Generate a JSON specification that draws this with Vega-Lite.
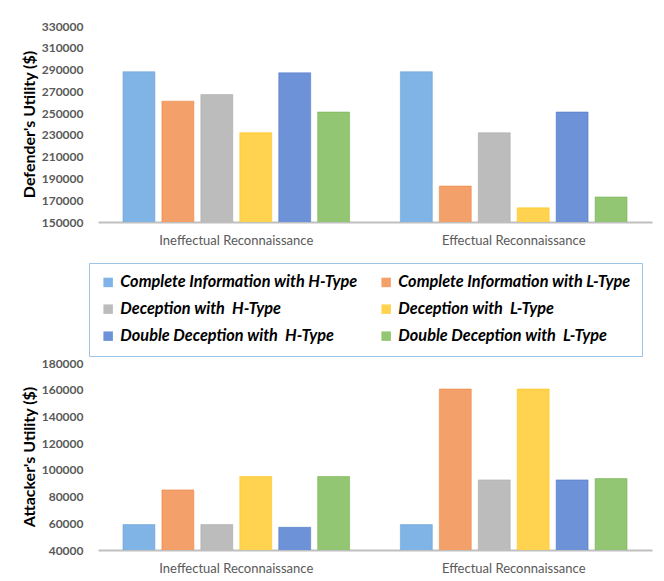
{
  "$schema": "https://vega.github.io/schema/vega-lite/v6.json",
  "padding": {"left": 20, "top": 20, "right": 5, "bottom": 5},
  "bounds": "flush",
  "spacing": 141,
  "config": {
    "font": "Lato",
    "view": {"stroke": null},
    "axis": {"grid": false, "ticks": false},
    "axisY": {"domain": false, "labelFontWeight": "bold", "labelColor": "#595959", "labelFontSize": 12, "labelPadding": 15, "titleFontSize": 16, "titleFontWeight": "bold", "titleColor": "#000000", "titleX": -61},
    "axisX": {"domainColor": "#BFBFBF", "domainWidth": 2, "labelColor": "#595959", "labelFontSize": 13, "labelAngle": 0, "labelPadding": 12, "title": null}
  },
  "datasets": {
    "defender": [
      {"case": "Ineffectual Reconnaissance", "series": "Complete Information with H-Type", "value": 288000},
      {"case": "Ineffectual Reconnaissance", "series": "Complete Information with L-Type", "value": 261000},
      {"case": "Ineffectual Reconnaissance", "series": "Deception with \u00a0H-Type", "value": 267000},
      {"case": "Ineffectual Reconnaissance", "series": "Deception with \u00a0L-Type", "value": 232000},
      {"case": "Ineffectual Reconnaissance", "series": "Double Deception with \u00a0H-Type", "value": 287000},
      {"case": "Ineffectual Reconnaissance", "series": "Double Deception with \u00a0L-Type", "value": 251000},
      {"case": "Effectual Reconnaissance", "series": "Complete Information with H-Type", "value": 288000},
      {"case": "Effectual Reconnaissance", "series": "Complete Information with L-Type", "value": 183000},
      {"case": "Effectual Reconnaissance", "series": "Deception with \u00a0H-Type", "value": 232000},
      {"case": "Effectual Reconnaissance", "series": "Deception with \u00a0L-Type", "value": 163000},
      {"case": "Effectual Reconnaissance", "series": "Double Deception with \u00a0H-Type", "value": 251000},
      {"case": "Effectual Reconnaissance", "series": "Double Deception with \u00a0L-Type", "value": 173000}
    ],
    "attacker": [
      {"case": "Ineffectual Reconnaissance", "series": "Complete Information with H-Type", "value": 59000},
      {"case": "Ineffectual Reconnaissance", "series": "Complete Information with L-Type", "value": 85000},
      {"case": "Ineffectual Reconnaissance", "series": "Deception with \u00a0H-Type", "value": 59000},
      {"case": "Ineffectual Reconnaissance", "series": "Deception with \u00a0L-Type", "value": 95000},
      {"case": "Ineffectual Reconnaissance", "series": "Double Deception with \u00a0H-Type", "value": 57000},
      {"case": "Ineffectual Reconnaissance", "series": "Double Deception with \u00a0L-Type", "value": 95000},
      {"case": "Effectual Reconnaissance", "series": "Complete Information with H-Type", "value": 59000},
      {"case": "Effectual Reconnaissance", "series": "Complete Information with L-Type", "value": 160500},
      {"case": "Effectual Reconnaissance", "series": "Deception with \u00a0H-Type", "value": 92500},
      {"case": "Effectual Reconnaissance", "series": "Deception with \u00a0L-Type", "value": 160500},
      {"case": "Effectual Reconnaissance", "series": "Double Deception with \u00a0H-Type", "value": 92500},
      {"case": "Effectual Reconnaissance", "series": "Double Deception with \u00a0L-Type", "value": 93500}
    ]
  },
  "resolve": {"scale": {"color": "independent"}, "legend": {"color": "independent"}},
  "vconcat": [
    {
      "width": 554,
      "height": 196,
      "data": {"name": "defender"},
      "mark": {"type": "bar", "clip": true, "strokeWidth": 1, "strokeOpacity": 0.5},
      "encoding": {
        "x": {"field": "case", "type": "nominal", "sort": ["Ineffectual Reconnaissance", "Effectual Reconnaissance"], "scale": {"paddingInner": 0.183, "paddingOuter": 0.09}},
        "xOffset": {"field": "series", "type": "nominal", "sort": null, "scale": {"paddingInner": 0.18, "paddingOuter": 0}},
        "y": {"field": "value", "type": "quantitative", "title": "Defender's Utility ($)", "scale": {"domain": [150000, 330000], "nice": false, "zero": false}, "axis": {"values": [150000, 170000, 190000, 210000, 230000, 250000, 270000, 290000, 310000, 330000], "format": "d"}},
        "color": {
          "field": "series", "type": "nominal", "sort": null,
          "scale": {"domain": ["Complete Information with H-Type", "Complete Information with L-Type", "Deception with \u00a0H-Type", "Deception with \u00a0L-Type", "Double Deception with \u00a0H-Type", "Double Deception with \u00a0L-Type"], "range": ["#80B4E6", "#F4A06A", "#BCBCBC", "#FFD34F", "#6E92D8", "#93C672"]},
          "legend": {"title": null, "orient": "none", "legendX": -9, "legendY": 237, "columns": 2, "direction": "horizontal", "symbolType": "square", "symbolSize": 90, "labelFontSize": 16.3, "labelFontStyle": "italic", "labelFontWeight": "bold", "labelColor": "#000000", "labelLimit": 400, "labelOffset": 4, "columnPadding": 20, "rowPadding": 10, "padding": 11, "strokeColor": "#9DC3E6", "symbolStrokeWidth": 0}
        },
        "stroke": {"field": "series", "type": "nominal", "sort": null, "legend": null, "scale": {"domain": ["Complete Information with H-Type", "Complete Information with L-Type", "Deception with \u00a0H-Type", "Deception with \u00a0L-Type", "Double Deception with \u00a0H-Type", "Double Deception with \u00a0L-Type"], "range": ["#5B9BD5", "#ED7D31", "#A5A5A5", "#FFC000", "#4472C4", "#70AD47"]}}
      }
    },
    {
      "width": 554,
      "height": 187,
      "data": {"name": "attacker"},
      "mark": {"type": "bar", "clip": true, "strokeWidth": 1, "strokeOpacity": 0.5},
      "encoding": {
        "x": {"field": "case", "type": "nominal", "sort": ["Ineffectual Reconnaissance", "Effectual Reconnaissance"], "scale": {"paddingInner": 0.183, "paddingOuter": 0.09}},
        "xOffset": {"field": "series", "type": "nominal", "sort": null, "scale": {"paddingInner": 0.18, "paddingOuter": 0}},
        "y": {"field": "value", "type": "quantitative", "title": "Attacker's Utility ($)", "scale": {"domain": [40000, 180000], "nice": false, "zero": false}, "axis": {"values": [40000, 60000, 80000, 100000, 120000, 140000, 160000, 180000], "format": "d"}},
        "color": {
          "field": "series", "type": "nominal", "sort": null, "legend": null,
          "scale": {"domain": ["Complete Information with H-Type", "Complete Information with L-Type", "Deception with \u00a0H-Type", "Deception with \u00a0L-Type", "Double Deception with \u00a0H-Type", "Double Deception with \u00a0L-Type"], "range": ["#80B4E6", "#F4A06A", "#BCBCBC", "#FFD34F", "#6E92D8", "#93C672"]}
        },
        "stroke": {"field": "series", "type": "nominal", "sort": null, "legend": null, "scale": {"domain": ["Complete Information with H-Type", "Complete Information with L-Type", "Deception with \u00a0H-Type", "Deception with \u00a0L-Type", "Double Deception with \u00a0H-Type", "Double Deception with \u00a0L-Type"], "range": ["#5B9BD5", "#ED7D31", "#A5A5A5", "#FFC000", "#4472C4", "#70AD47"]}}
      }
    }
  ]
}
